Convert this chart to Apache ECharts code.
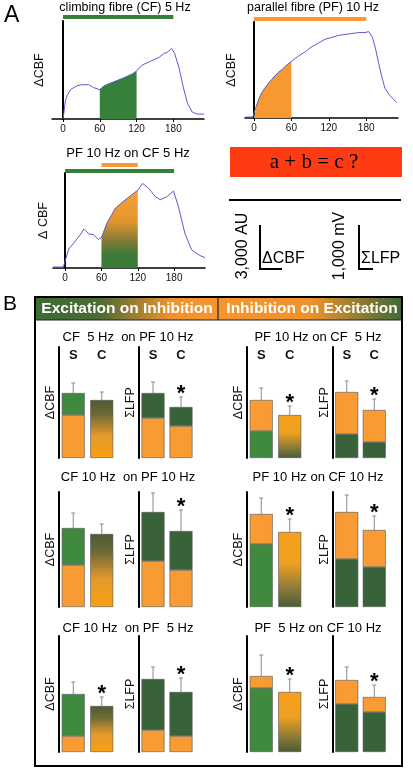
<!DOCTYPE html>
<html><head><meta charset="utf-8">
<script src="https://cdn.jsdelivr.net/npm/echarts@6/dist/echarts.min.js"></script>
<style>html,body{margin:0;padding:0;background:#fff}#c{width:413px;height:770px}</style>
</head><body><div id="c"></div>
<script>
// ---------- Panel A data (time in s, ΔCBF in % of axis) ----------
const cfTime = [0,4,7,12,23,31,42,50,60,67,83,99,113,120,129,143,157,165,170,177,182,189,196,203,211,219,230];
const cfCBF  = [0,19,24,30,34,35,35,32,30,34,38,42,46,49,55,59,63,67,68,72,67,53,33,16,7,5,5];
const pfTime = [-14,-2,0,6,12,17,28,38,44,52,60,70,82,92,103,114,125,135,146,157,168,178,184,190,195,200,205,210,216,223,229];
const pfCBF  = [1,1,1,17,26,31,40,47,50,55,59,64,69,74,78,82,84,86,87,88,89,89,90,84,72,57,43,31,25,20,16];
const cmbTime = [-20,-3,0,6,14,25,31,39,47,55,60,69,83,96,110,120,128,138,149,157,168,179,187,198,209,223,231];
const cmbCBF  = [1,1,1,20,26,35,41,36,35,30,32,47,63,70,77,82,89,84,75,72,75,81,65,36,19,13,11];
const cfStim = [0,180];
const pfStim = [0,180];
const pfOnCfStim = [60,120];
const winA = [60,120];
const winB = [0,60];
const winC = [60,120];
const xTicksA = [0,60,120,180];

// ---------- Panel B data ----------
const groupCats = ['S','C'];
const eoiTitles = ['CF  5 Hz  on PF 10 Hz','CF 10 Hz  on PF 10 Hz','CF 10 Hz  on PF  5 Hz'];
const ioeTitles = ['PF 10 Hz on CF  5 Hz','PF 10 Hz on CF 10 Hz','PF  5 Hz on CF 10 Hz'];
const eoiCbfTotal = [[65,58],[79,73],[58,46]];
const eoiCbfPf    = [43,42,16];
const eoiCbfErr   = [[75,66],[94,83],[70,55]];
const eoiLfpTotal = [[65,51],[95,76],[73,60]];
const eoiLfpPf    = [[40,32],[46,37],[22,16]];
const eoiLfpErr   = [[76,61],[114,97],[85,74]];
const ioeCbfTotal = [[58,43],[93,75],[76,60]];
const ioeCbfCf    = [27,63,64];
const ioeCbfErr   = [[70,52],[109,88],[97,73]];
const ioeLfpTotal = [[66,48],[95,77],[72,55]];
const ioeLfpCf    = [[24,16],[48,40],[48,40]];
const ioeLfpErr   = [[77,59],[112,91],[85,67]];
const starC = [[false,true,true,true],[false,true,true,true],[true,true,true,true]];

// ---------- styling ----------
const FONT = '"Liberation Sans", Arial, sans-serif';
const SERIF = '"Liberation Serif", "Times New Roman", serif';
const BLUE = '#5a5ad2';
const GREEN_A = '#36803a';
const ORANGE = '#f8992f';
const GREEN_CBF = '#3f8a3f';
const GREEN_LFP = '#37623a';
const ORANGE_B = '#f89b33';
const LG = echarts.graphic.LinearGradient;

const chart = echarts.init(document.getElementById('c'));
const grids = [], xAxes = [], yAxes = [], series = [];
const zip = (a, b) => a.map((v, i) => [v, b[i]]);

// ---- Panel A traces ----
const aPanels = [
  {grid:{left:52,top:21,width:152,height:98}, min:-18, max:230, t:cfTime, v:cfCBF,
   win:winA, fill:GREEN_A, letter:'a', letterAt:[90,13],
   stims:[{r:cfStim,y:104,c:GREEN_A}], dash:winA, dashTop:104, nameGap:6},
  {grid:{left:245,top:22,width:153,height:96}, min:-14.5, max:231, t:pfTime, v:pfCBF,
   win:winB, fill:ORANGE, letter:'b', letterAt:[33,14],
   stims:[{r:pfStim,y:103,c:ORANGE}], dash:winB, dashTop:103, nameGap:7},
  {grid:{left:53,top:173,width:152,height:95}, min:-20, max:231, t:cmbTime, v:cmbCBF,
   win:winC, fill:new LG(0,0,0,1,[{offset:0,color:'#f7a032'},{offset:0.4,color:'#e3962f'},{offset:0.66,color:'#7f7a35'},{offset:0.82,color:'#3f7a3a'},{offset:1,color:'#397a38'}]),
   letter:'c', letterAt:[92,16],
   stims:[{r:cfStim,y:102,c:GREEN_A},{r:pfOnCfStim,y:108.5,c:ORANGE}], dash:winC, dashTop:108.5, nameGap:3, name:'Δ CBF'}
];
aPanels.forEach((p, i) => {
  grids.push(p.grid);
  xAxes.push({gridIndex:i, type:'value', min:p.min, max:p.max,
    axisLine:{show:true, onZero:false, lineStyle:{color:'#000', width:1.5}},
    axisTick:{show:true, customValues:xTicksA, length:3, lineStyle:{color:'#000'}},
    axisLabel:{show:true, customValues:xTicksA, fontSize:10, color:'#111', margin:5, fontFamily:FONT},
    splitLine:{show:false}});
  yAxes.push({gridIndex:i, type:'value', min:0, max:100,
    axisLine:{show:true, lineStyle:{color:'#000', width:2}}, axisTick:{show:false}, axisLabel:{show:false},
    splitLine:{show:false}, name:p.name || 'ΔCBF', nameLocation:'middle', nameGap:p.nameGap,
    nameTextStyle:{fontSize:12.5, color:'#111', fontFamily:FONT}});
  const all = zip(p.t, p.v);
  series.push({type:'line', xAxisIndex:i, yAxisIndex:i, data:all.filter(d => d[0] >= p.win[0] && d[0] <= p.win[1]),
    showSymbol:false, lineStyle:{width:0}, areaStyle:{color:p.fill, opacity:1}, z:2, silent:true});
  series.push({type:'line', xAxisIndex:i, yAxisIndex:i, data:all, showSymbol:false,
    lineStyle:{color:BLUE, width:1}, z:3, silent:true});
  p.stims.forEach((s, k) => {
    const ser = {type:'line', xAxisIndex:i, yAxisIndex:i, data:[[s.r[0], s.y],[s.r[1], s.y]], showSymbol:false,
      clip:false, lineStyle:{color:s.c, width:4, cap:'butt'}, z:4, silent:true};
    if (k === 0) {
      ser.markLine = {silent:true, symbol:'none', label:{show:false},
        lineStyle:{color:'#000', type:[3,2], width:0.8},
        data:p.dash.map(x => [{coord:[x,0]},{coord:[x,p.dashTop]}])};
    }
    series.push(ser);
  });
  series.push({type:'scatter', xAxisIndex:i, yAxisIndex:i, data:[p.letterAt], symbolSize:1,
    itemStyle:{opacity:0}, z:5, silent:true,
    label:{show:true, position:'inside', formatter:p.letter, color:'#fff', fontSize:18, fontWeight:'bold', fontFamily:SERIF}});
});

// ---- Panel B bar charts ----
const rowTops = [347, 492, 636];
const rowHeights = [111, 115, 116];
const colLefts = [59, 139, 247, 333];
const colWidths = [57, 56, 57, 55];
const gradEoI = new LG(0,0,0,1,[{offset:0,color:'#4e5a35'},{offset:0.25,color:'#6e6a36'},{offset:0.62,color:'#e59a2c'},{offset:1,color:'#f9a012'}]);
const gradIoE = new LG(0,0,0,1,[{offset:0,color:'#f8a01a'},{offset:0.42,color:'#eea022'},{offset:0.78,color:'#85773a'},{offset:1,color:'#4a5b36'}]);

function chartData(r, c) {
  if (c === 0) return {tot:eoiCbfTotal[r], err:eoiCbfErr[r],
    bottom:[{value:eoiCbfPf[r], itemStyle:{color:ORANGE_B}}, {value:eoiCbfTotal[r][1], itemStyle:{color:gradEoI}}],
    top:[{value:eoiCbfTotal[r][0]-eoiCbfPf[r], itemStyle:{color:GREEN_CBF}}, '-'], name:'ΔCBF'};
  if (c === 1) return {tot:eoiLfpTotal[r], err:eoiLfpErr[r],
    bottom:eoiLfpPf[r].map(v => ({value:v, itemStyle:{color:ORANGE_B}})),
    top:eoiLfpTotal[r].map((v, k) => ({value:v - eoiLfpPf[r][k], itemStyle:{color:GREEN_LFP}})), name:'ΣLFP'};
  if (c === 2) return {tot:ioeCbfTotal[r], err:ioeCbfErr[r],
    bottom:[{value:ioeCbfCf[r], itemStyle:{color:GREEN_CBF}}, {value:ioeCbfTotal[r][1], itemStyle:{color:gradIoE}}],
    top:[{value:ioeCbfTotal[r][0]-ioeCbfCf[r], itemStyle:{color:ORANGE_B}}, '-'], name:'ΔCBF'};
  return {tot:ioeLfpTotal[r], err:ioeLfpErr[r],
    bottom:ioeLfpCf[r].map(v => ({value:v, itemStyle:{color:GREEN_LFP}})),
    top:ioeLfpTotal[r].map((v, k) => ({value:v - ioeLfpCf[r][k], itemStyle:{color:ORANGE_B}})), name:'ΣLFP'};
}

for (let r = 0; r < 3; r++) {
  for (let c = 0; c < 4; c++) {
    const gi = grids.length;
    const d = chartData(r, c);
    grids.push({left:colLefts[c], top:rowTops[r], width:colWidths[c], height:rowHeights[r]});
    xAxes.push({gridIndex:gi, type:'category', data:groupCats, position: r === 0 ? 'top' : 'bottom',
      axisLine:{show:false}, axisTick:{show:false},
      axisLabel:{show:r === 0, margin:-15, fontSize:13, fontWeight:'bold', color:'#111', fontFamily:FONT}});
    yAxes.push({gridIndex:gi, type:'value', min:0, max:rowHeights[r],
      axisLine:{show:true, lineStyle:{color:'#000', width:2}}, axisTick:{show:false}, axisLabel:{show:false},
      splitLine:{show:false}, name:d.name, nameLocation:'middle', nameGap:2,
      nameTextStyle:{fontSize:12.5, color:'#111', fontFamily:FONT}});
    const common = {type:'bar', xAxisIndex:gi, yAxisIndex:gi, stack:'st'+gi, barWidth:23, silent:true,
      itemStyle:{borderColor:'#555', borderWidth:0.6}};
    series.push(Object.assign({}, common, {data:d.bottom, z:2}));
    series.push(Object.assign({}, common, {data:d.top, z:2}));
    const star = starC[r][c];
    series.push({type:'custom', xAxisIndex:gi, yAxisIndex:gi, silent:true, z:3,
      data:[[0, d.tot[0], d.err[0], 0], [1, d.tot[1], d.err[1], star ? 1 : 0]],
      renderItem:function(params, api) {
        const p0 = api.coord([api.value(0), api.value(1)]);
        const p1 = api.coord([api.value(0), api.value(2)]);
        const ch = [
          {type:'line', shape:{x1:p0[0], y1:p0[1], x2:p1[0], y2:p1[1]}, style:{stroke:'#8a8a8a', lineWidth:1}},
          {type:'line', shape:{x1:p1[0]-2, y1:p1[1], x2:p1[0]+2, y2:p1[1]}, style:{stroke:'#8a8a8a', lineWidth:1}}
        ];
        if (api.value(3)) ch.push({type:'text', style:{text:'*', x:p1[0], y:p1[1]-3, fontSize:22, fontWeight:'bold',
          fill:'#000', align:'center', verticalAlign:'middle', fontFamily:FONT}});
        return {type:'group', children:ch};
      }});
  }
}

// ---- decorative / text graphics ----
const txt = (x, y, text, o) => Object.assign({type:'text', x, y, silent:true,
  style:Object.assign({text, fill:'#000', fontFamily:FONT, fontSize:13, align:'center', verticalAlign:'middle'}, o || {})});
const graphic = [
  txt(4, 16, 'A', {fontSize:23, align:'left'}),
  txt(125, 8, 'climbing fibre (CF) 5 Hz', {fontSize:12.5}),
  txt(313, 8, 'parallel fibre (PF) 10 Hz', {fontSize:12.5}),
  txt(128, 153, 'PF 10 Hz on CF 5 Hz', {fontSize:13}),
  {type:'rect', shape:{x:230, y:147, width:172, height:30}, style:{fill:'#ff3b14'}, silent:true},
  txt(314, 162, 'a + b = c ?', {fontSize:21, fontFamily:SERIF}),
  {type:'line', shape:{x1:229, y1:200, x2:401, y2:200}, style:{stroke:'#000', lineWidth:2}, silent:true},
  {type:'polyline', shape:{points:[[260,225],[260,269],[282,269]]}, style:{stroke:'#000', lineWidth:2, fill:null}, silent:true},
  {type:'polyline', shape:{points:[[359,225],[359,269],[373,269]]}, style:{stroke:'#000', lineWidth:2, fill:null}, silent:true},
  Object.assign(txt(243, 246, '3,000 AU', {fontSize:16}), {rotation:Math.PI/2}),
  Object.assign(txt(340, 246, '1,000 mV', {fontSize:16}), {rotation:Math.PI/2}),
  txt(262, 259, 'ΔCBF', {fontSize:16, align:'left'}),
  txt(361, 259, 'ΣLFP', {fontSize:16, align:'left'}),
  txt(3, 304, 'B', {fontSize:21, align:'left'}),
  {type:'rect', shape:{x:35, y:297, width:183, height:23}, silent:true,
   style:{fill:new LG(0,0,1,0,[{offset:0,color:'#3e6b36'},{offset:0.35,color:'#4b6a34'},{offset:0.75,color:'#f0932e'},{offset:1,color:'#f7952d'}])}},
  {type:'rect', shape:{x:218, y:297, width:184, height:23}, silent:true,
   style:{fill:new LG(0,0,1,0,[{offset:0,color:'#f7952d'},{offset:0.5,color:'#f0922e'},{offset:1,color:'#3e6a36'}])}},
  {type:'rect', shape:{x:35, y:297, width:367, height:469}, silent:true, style:{fill:null, stroke:'#000', lineWidth:2}},
  {type:'line', shape:{x1:35, y1:320, x2:402, y2:320}, silent:true, style:{stroke:'#222', lineWidth:1.2}},
  {type:'line', shape:{x1:218, y1:297, x2:218, y2:320}, silent:true, style:{stroke:'#222', lineWidth:1.2}},
  txt(127, 309, 'Excitation on Inhibition', {fill:'#fff', fontWeight:'bold', fontSize:15.5}),
  txt(312, 309, 'Inhibition on Excitation', {fill:'#fff', fontWeight:'bold', fontSize:15.5})
];
const rowTitleY = [337, 477, 628];
for (let r = 0; r < 3; r++) {
  graphic.push(txt(128, rowTitleY[r], eoiTitles[r], {fontSize:13}));
  graphic.push(txt(318, rowTitleY[r], ioeTitles[r], {fontSize:13}));
}

chart.setOption({
  backgroundColor:'#fff', animation:false,
  grid:grids, xAxis:xAxes, yAxis:yAxes, series:series, graphic:graphic
});
</script></body></html>
